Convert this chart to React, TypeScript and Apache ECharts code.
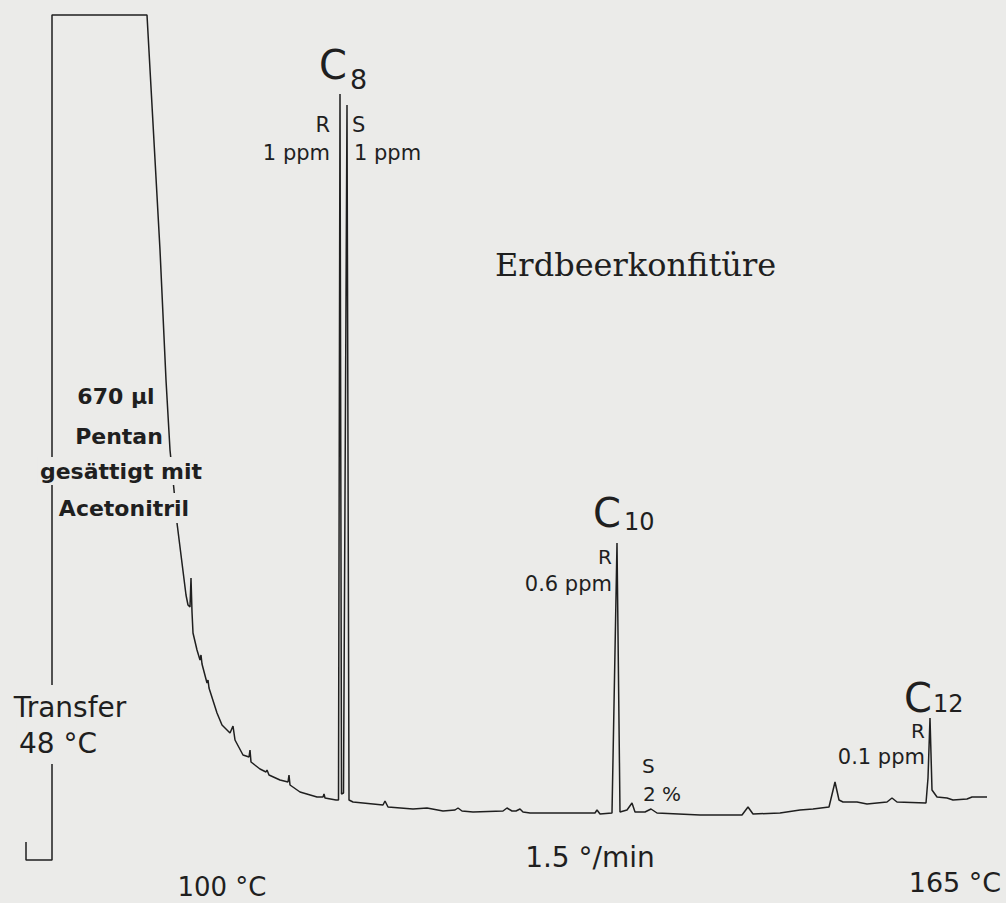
import React, { useEffect, useRef } from "react";
import * as echarts from "echarts";

// Chromatogram trace: retention (arbitrary time units) and detector signal (arbitrary units)
const retentionTime = [
  -2.6, -2.6, 0, 0, 9.5, 10.8, 11.4, 11.8, 12.2, 12.5, 13.0, 13.4, 13.6, 13.8, 13.9, 14.0, 14.1, 14.5,
  14.8, 14.9, 15.0, 15.5, 15.6, 15.7, 16.5, 17.0, 17.8, 18.1, 18.3, 19.1, 19.7, 19.8, 19.9, 20.8,
  21.4, 21.5, 21.7, 22.8, 23.6, 23.7, 23.8, 24.8, 26.5, 27.1, 27.2, 27.3, 28.4, 28.65, 28.8, 28.95,
  29.15, 29.5, 29.7, 30.1, 33.1, 33.3, 33.6, 36.1, 37.5, 39.1, 40.3, 40.6, 41.0, 42.1, 45.1, 45.5,
  46.0, 46.4, 46.8, 47.1, 47.8, 53.8, 54.3, 54.5, 54.8, 56.0, 56.5, 56.8, 57.5, 58.0, 58.3, 59.3,
  59.9, 60.5, 64.8, 69.0, 69.6, 70.1, 72.8, 74.8, 76.1, 77.7, 78.3, 78.7, 79.1, 80.5, 81.5, 83.5,
  84.0, 84.5, 87.4, 87.6, 87.8, 88.0, 88.5, 89.5, 90.1, 91.5, 92.0, 93.5,
];
const signal = [
  1.8, 0, 0, 84.5, 84.5, 61.0, 48.0, 41.0, 37.0, 33.7, 29.7, 26.5, 25.5, 25.3, 28.2, 24.8, 22.7, 21.0,
  20.0, 20.5, 19.6, 17.7, 18.0, 17.2, 14.7, 13.5, 12.7, 13.4, 12.0, 10.5, 10.3, 11.0, 9.8, 9.1,
  8.8, 9.0, 8.5, 8.0, 7.8, 8.5, 7.5, 6.8, 6.3, 6.3, 6.6, 6.2, 6.0, 6.0, 76.6, 6.6,
  6.7, 75.5, 6.0, 5.8, 5.5, 5.9, 5.3, 5.1, 5.2, 4.9, 5.0, 5.2, 4.9, 4.8, 4.9, 5.2,
  4.9, 4.9, 5.1, 4.8, 4.7, 4.7, 4.7, 5.0, 4.6, 4.7, 31.7, 4.8, 5.0, 5.7, 4.8, 4.8,
  5.1, 4.7, 4.5, 4.5, 5.3, 4.6, 4.7, 5.0, 5.1, 5.3, 7.8, 6.0, 5.8, 5.8, 5.6, 5.8,
  6.2, 5.8, 5.7, 8.2, 14.2, 7.0, 6.3, 6.2, 6.0, 6.1, 6.3, 6.3,
];

const sampleTitle = "Erdbeerkonfitüre";
const solventLabel = ["670 µl", "Pentan", "gesättigt mit", "Acetonitril"];
const transferLabel = ["Transfer", "48 °C"];
const programLabels = ["100 °C", "1.5 °/min", "165 °C"];

const PAPER = "#ebebe9";
const INK = "#1f1f1f";
const SANS = '"DejaVu Sans", "Liberation Sans", sans-serif';
const SERIF = '"DejaVu Serif", "Liberation Serif", serif';

function txt(
  text: string,
  x: number,
  y: number,
  size: number,
  align: "left" | "center" | "right",
  extra: any = {}
) {
  const weight = extra.bold ? "bold " : "";
  const family = extra.serif ? SERIF : SANS;
  const style: any = {
    text,
    x,
    y,
    font: `${weight}${size}px ${family}`,
    fill: INK,
    align,
    textAlign: align,
    verticalAlign: "middle",
    textVerticalAlign: "middle",
  };
  if (extra.bg) {
    style.backgroundColor = PAPER;
    style.padding = extra.pad || [2, 2, 2, 2];
  }
  return { type: "text", z: 100, silent: true, style };
}

export default function App() {
  const ref = useRef<HTMLDivElement>(null);
  useEffect(() => {
    if (!ref.current) return;
    const chart = echarts.init(ref.current, undefined, { renderer: "svg" });
    const data = retentionTime.map((t, i) => [t, signal[i]]);
    chart.setOption({
      animation: false,
      backgroundColor: PAPER,
      grid: { left: 0, right: 0, top: 0, bottom: 0 },
      xAxis: { type: "value", min: -5.2, max: 95.4, show: false },
      yAxis: { type: "value", min: -4.3, max: 86, show: false },
      series: [
        {
          type: "line",
          data,
          showSymbol: false,
          symbol: "none",
          smooth: false,
          clip: false,
          lineStyle: { color: INK, width: 1.5 },
          z: 2,
        },
      ],
      graphic: [
        // C8
        txt("C", 319, 65, 40, "left"),
        txt("8", 350, 79, 27, "left"),
        txt("R", 330, 125, 21, "right"),
        txt("S", 352, 125, 21, "left"),
        txt("1 ppm", 330, 153, 21, "right"),
        txt("1 ppm", 354, 153, 21, "left"),
        // title
        txt(sampleTitle, 495, 265, 32, "left", { serif: true }),
        // solvent
        txt(solventLabel[0], 116, 396, 22, "center", { bold: true }),
        txt(solventLabel[1], 119, 436, 22, "center", { bold: true }),
        txt(solventLabel[2], 121, 471, 22, "center", { bold: true, bg: true, pad: [2, 2, 4, 2] }),
        txt(solventLabel[3], 124, 508, 22, "center", { bold: true, bg: true, pad: [5, 2, 3, 2] }),
        // transfer
        txt(transferLabel[0], 70, 707, 28, "center", { bg: true, pad: [8, 2, 8, 2] }),
        txt(transferLabel[1], 58, 743, 28, "center", { bg: true, pad: [6, 2, 8, 2] }),
        // C10
        txt("C", 621, 513, 40, "right"),
        txt("10", 624, 522, 24, "left"),
        txt("R", 612, 557, 20, "right"),
        txt("0.6 ppm", 612, 584, 21, "right"),
        txt("S", 642, 766, 20, "left"),
        txt("2 %", 643, 794, 20, "left"),
        // C12
        txt("C", 932, 698, 40, "right"),
        txt("12", 933, 704, 24, "left"),
        txt("R", 925, 731, 20, "right"),
        txt("0.1 ppm", 925, 757, 21, "right"),
        // temperature program
        txt(programLabels[0], 222, 887, 26, "center"),
        txt(programLabels[1], 590, 857, 28, "center"),
        txt(programLabels[2], 955, 882, 27, "center"),
      ],
    });
    return () => chart.dispose();
  }, []);
  return (
    <div
      ref={ref}
      style={{ position: "absolute", left: 0, top: 0, width: 1006, height: 903, background: PAPER }}
    />
  );
}
